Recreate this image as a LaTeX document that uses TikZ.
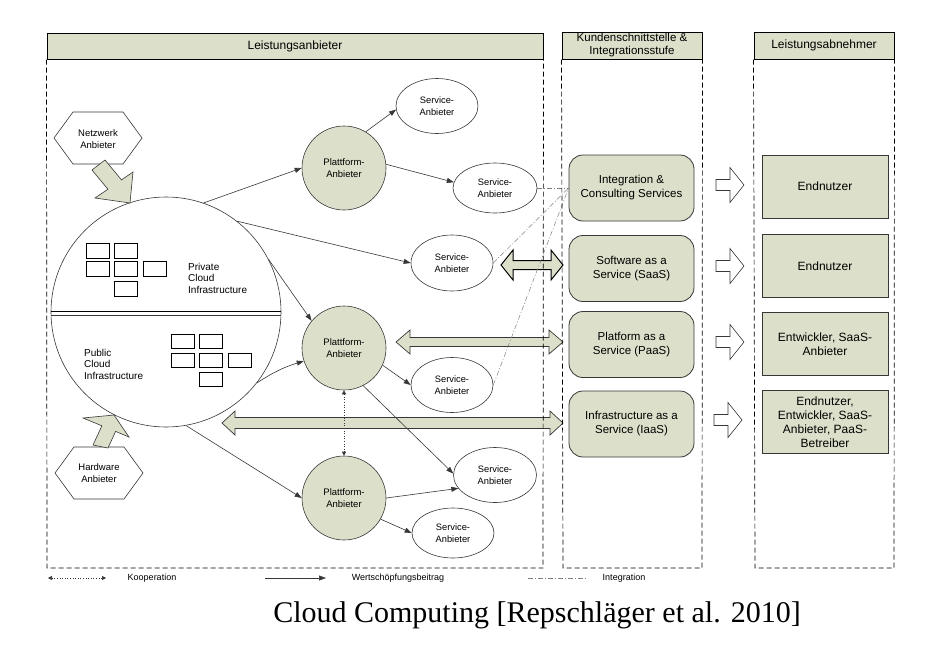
\documentclass[tikz,border=0pt]{standalone}
\usepackage{fontspec}
\setmainfont{Liberation Sans}
\newfontfamily\capfont{Liberation Serif}
\usetikzlibrary{arrows.meta,calc,shapes.geometric}
\definecolor{olv}{RGB}{220,223,201}
\definecolor{lng}{RGB}{55,55,55}
\newcommand{\fzHdr}{\fontsize{12}{14}\selectfont}
\newcommand{\fzHdrTwo}{\fontsize{11.5}{13}\selectfont}
\newcommand{\fzBox}{\fontsize{11.5}{14}\selectfont}
\newcommand{\fzPlat}{\fontsize{9.5}{12}\selectfont}
\newcommand{\fzServ}{\fontsize{9.3}{11.5}\selectfont}
\newcommand{\fzLeg}{\fontsize{9}{11}\selectfont}
% right-pointing block arrow: [style]{x1}{x2}{y}{head half}{shaft half}{head length}
\newcommand{\blockR}[7][]{\draw[#1] (#2,#4-#6) -- (#3-#7,#4-#6) -- (#3-#7,#4-#5) -- (#3,#4) -- (#3-#7,#4+#5) -- (#3-#7,#4+#6) -- (#2,#4+#6) -- cycle;}
% double block arrow
\newcommand{\blockLR}[7][]{\draw[#1] (#2,#4) -- (#2+#7,#4-#5) -- (#2+#7,#4-#6) -- (#3-#7,#4-#6) -- (#3-#7,#4-#5) -- (#3,#4) -- (#3-#7,#4+#5) -- (#3-#7,#4+#6) -- (#2+#7,#4+#6) -- (#2+#7,#4+#5) -- cycle;}
\begin{document}
\begin{tikzpicture}[x=1pt,y=-1pt,
  hdr/.style={draw=black, line width=1pt, fill=olv, font=\fzHdr, align=center, inner sep=0pt},
  frame/.style={dash pattern=on 5pt off 3pt, line width=0.7pt, draw=black},
  plat/.style={circle, draw=lng, fill=olv, line width=0.6pt, minimum size=84pt, inner sep=0pt, align=center, font=\fzPlat},
  serv/.style={ellipse, draw=lng, fill=white, line width=0.6pt, minimum width=82pt, minimum height=54pt, inner sep=0pt, align=center, font=\fzServ},
  midbox/.style={draw=lng, fill=olv, rounded corners=14pt, line width=0.8pt, minimum width=125pt, minimum height=66pt, align=center, font=\fzBox, inner sep=0pt},
  usrbox/.style={draw=lng, fill=olv, line width=0.8pt, minimum width=126pt, minimum height=63pt, align=center, font=\fzHdr, inner sep=0pt},
  sq/.style={draw=black, line width=0.7pt},
  hexa/.style={draw=lng, fill=white, line width=0.6pt},
  fat/.style={draw=lng, fill=olv, line width=0.6pt},
  hollow/.style={draw=lng, fill=white, line width=0.6pt},
  dbl/.style={draw=lng, fill=olv, line width=0.7pt},
  conn/.style={draw=lng, line width=0.6pt, -{Triangle[length=7pt,width=5pt]}},
  coop/.style={draw=lng, line width=0.6pt, dotted, {Triangle[length=4pt,width=4pt]}-{Triangle[length=4pt,width=4pt]}},
  integ/.style={draw=gray, line width=0.5pt, dash pattern=on 5pt off 2pt on 1pt off 2pt},
  txt/.style={inner sep=0pt, align=left}
]
\useasboundingbox (0,0) rectangle (942,651);

% headers
\node[hdr, minimum width=496pt, minimum height=26pt] (hL) at (295,46) {Leistungsanbieter};
\node[hdr, font=\fzHdrTwo, minimum width=140pt, minimum height=27pt] (hM) at (632,45.5) {Kundenschnittstelle \&\\Integrationsstufe};
\node[hdr, minimum width=140pt, minimum height=27pt] (hR) at (824,45.5) {Leistungsabnehmer};

% big cloud circle
\node[circle, draw=lng, line width=0.6pt, minimum size=230pt, inner sep=0pt] (cloud) at (166,312) {};
\draw[line width=0.9pt] (51,311) -- (281,311);
\draw[line width=0.5pt, lng] (51,315) -- (281,315);
\foreach \x/\y in {86/243,114/243,86/261,114/261,143/261,114/281}
  \draw[sq] (\x,\y) rectangle ++(23,15);
\foreach \x/\y in {171/334,199/334,171/353,199/353,228/353,199/372}
  \draw[sq] (\x,\y) rectangle ++(23,14);
\node[txt, anchor=west, font=\fontsize{10}{11.5}\selectfont] (priv) at (188,278) {Private\\Cloud\\Infrastructure};
\node[txt, anchor=west, font=\fontsize{10}{11.5}\selectfont] (pub) at (84,364) {Public\\Cloud\\Infrastructure};

% hexagons
\draw[hexa] (54,138) -- (73,112) -- (123,112) -- (142,138) -- (123,164) -- (73,164) -- cycle;
\node[font=\fzPlat, align=center, inner sep=0pt] (nw) at (98,139) {Netzwerk\\Anbieter};
\draw[hexa] (55,473) -- (74,447) -- (124,447) -- (143,473) -- (124,499) -- (74,499) -- cycle;
\node[font=\fzPlat, align=center, inner sep=0pt] (hw) at (99,473) {Hardware\\Anbieter};

% fat arrows into cloud
\draw[fat] (92,170) -- (107.9,189.2) -- (95,198) -- (130,203) -- (133,172) -- (121.5,179.9) -- (105,160) -- cycle;
\draw[fat] (93,445) -- (101.9,425.8) -- (83,418) -- (114,415) -- (129,437) -- (115.6,431.4) -- (108,448) -- cycle;

% double block arrows
\blockLR[dbl, draw=black, line width=1pt]{501}{563}{265}{15}{4.5}{12}
\blockLR[dbl]{396}{563}{342}{12}{4.5}{14}
\blockLR[dbl]{222}{563}{423}{12}{5.5}{13}

% platform nodes
\node[plat] (p1) at (344,168) {Plattform-\\Anbieter};
\node[plat] (p2) at (344,348) {Plattform-\\Anbieter};
\node[plat] (p3) at (344,498) {Plattform-\\Anbieter};

% service nodes
\node[serv, minimum height=55pt] (s1) at (437,106) {Service-\\Anbieter};
\node[serv, minimum width=84pt, minimum height=50pt] (s2) at (495,188) {Service-\\Anbieter};
\node[serv, minimum height=56pt] (s3) at (452,263) {Service-\\Anbieter};
\node[serv, minimum height=55pt] (s4) at (452,385) {Service-\\Anbieter};
\node[serv, minimum width=83pt, minimum height=55pt] (s5) at (495,475) {Service-\\Anbieter};
\node[serv, minimum height=50pt] (s6) at (453,533) {Service-\\Anbieter};

% value contribution arrows
\draw[conn] (cloud.71) -- (p1.west);
\draw[conn] (cloud.52) -- (s3.west);
\draw[conn] (cloud.27) -- (p2.140);
\draw[conn] (cloud.-38) to[bend left=8] (p2.198);
\draw[conn] (cloud.-80) -- (p3.180);
\draw[conn] (p1.59) -- (s1.185);
\draw[conn] (p1.5) -- (s2.172);
\draw[conn] (p2.-24) -- (s4.west);
\draw[conn] (p2.-63) -- (s5.178);
\draw[conn] (p3.0) -- (s5.200);
\draw[conn] (p3.-30) -- (s6.west);
\draw[coop] (p2.south) -- (p3.north);

% middle column
\node[midbox] (ics) at (631.5,188) {Integration \&\\Consulting Services};
\node[midbox] (saas) at (631.5,268.5) {Software as a\\Service (SaaS)};
\node[midbox] (paas) at (631.5,344.5) {Platform as a\\Service (PaaS)};
\node[midbox] (iaas) at (631.5,424) {Infrastructure as a\\Service (IaaS)};

% integration lines
\draw[integ] (s2.east) -- (ics.west);
\draw[integ] (s3.east) -- (ics.west);
\draw[integ] (s4.east) -- (ics.west);

% right column
\node[usrbox] (u1) at (825,186.5) {Endnutzer};
\node[usrbox] (u2) at (825,266) {Endnutzer};
\node[usrbox] (u3) at (825,344) {Entwickler, SaaS-\\Anbieter};
\node[usrbox] (u4) at (825,422) {Endnutzer,\\Entwickler, SaaS-\\Anbieter, PaaS-\\Betreiber};

% hollow arrows
\blockR[hollow]{716}{744}{185}{17.5}{5.5}{14}
\blockR[hollow]{716}{744}{266}{17.5}{5.5}{14}
\blockR[hollow]{716}{744}{342}{17.5}{5.5}{14}
\blockR[hollow]{714}{742}{420}{17.5}{5.5}{14}

% dashed frames
\draw[frame] (hL.south west) -- (47,568) -- (543,568) -- (hL.south east);
\draw[frame] (hM.south west) -- (563,568) -- (702,568) -- (hM.south east);
\draw[frame] (hR.south west) -- (755,568) -- (894,568) -- (hR.south east);

% legend
\coordinate (k1) at (48,578); \coordinate (k2) at (106,578);
\draw[coop] (k1) -- (k2);
\node[font=\fzLeg, inner sep=0pt] (lk) at (152,578) {Kooperation};
\coordinate (w1) at (265,578); \coordinate (w2) at (326,578);
\draw[conn] (w1) -- (w2);
\node[font=\fzLeg, inner sep=0pt] (lw) at (398,578) {Wertschöpfungsbeitrag};
\coordinate (i1) at (528,578); \coordinate (i2) at (586,578);
\draw[integ] (i1) -- (i2);
\node[font=\fzLeg, inner sep=0pt] (li) at (624,578) {Integration};

% caption
\node[font=\capfont\fontsize{30}{36}\selectfont, anchor=base, inner sep=0pt] (cap) at (537,622) {Cloud Computing [Repschläger et al. 2010]};
\end{tikzpicture}
\end{document}
